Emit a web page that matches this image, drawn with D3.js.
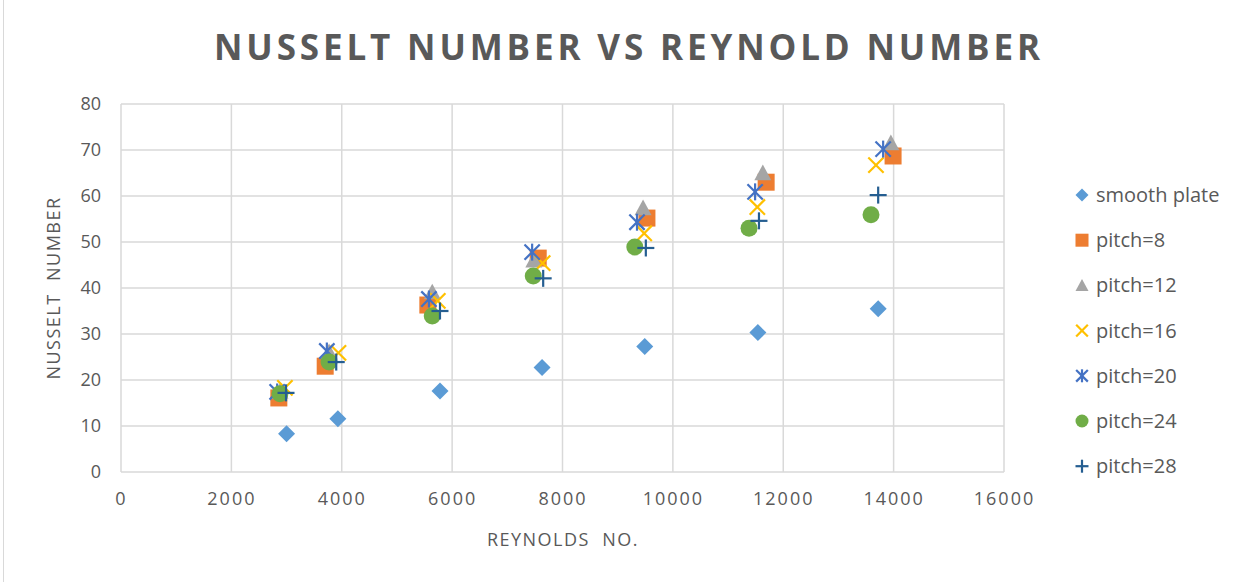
<!DOCTYPE html>
<html><head><meta charset="utf-8">
<script src="https://cdn.jsdelivr.net/npm/d3@7"></script>
<style>body{margin:0;background:#fff}svg{display:block}</style>
</head><body>
<script>
const seriesNames = ["smooth plate","pitch=8","pitch=12","pitch=16","pitch=20","pitch=24","pitch=28"];
const reSmooth = [3000,3930,5780,7630,9490,11540,13720];
const nuSmooth = [8.3,11.6,17.6,22.7,27.3,30.3,35.5];
const rePitch8 = [2860,3700,5560,7560,9530,11690,13990];
const nuPitch8 = [16.1,23.0,36.3,46.5,55.2,63.0,68.7];
const rePitch12 = [2880,3770,5640,7480,9460,11630,13950];
const nuPitch12 = [17.5,26.1,39.1,46.0,57.4,65.0,71.5];
const rePitch16 = [2970,3940,5740,7640,9480,11530,13680];
const nuPitch16 = [18.3,25.9,37.2,45.4,51.9,57.6,66.7];
const rePitch20 = [2830,3730,5580,7450,9350,11490,13810];
const nuPitch20 = [17.4,26.3,37.6,47.8,54.3,60.9,70.2];
const rePitch24 = [2880,3770,5640,7470,9310,11380,13590];
const nuPitch24 = [17.0,23.9,33.9,42.6,48.9,53.0,55.9];
const rePitch28 = [2990,3900,5780,7650,9510,11560,13720];
const nuPitch28 = [17.2,23.9,35.0,42.1,48.7,54.6,60.2];
const xTicks = [0,2000,4000,6000,8000,10000,12000,14000,16000];
const yTicks = [0,10,20,30,40,50,60,70,80];

const colors = ["#5B9BD5","#ED7D31","#A5A5A5","#FFC000","#4472C4","#70AD47","#255E91"];
const shapes = ["diamond","square","triangle","x","star","circle","plus"];
const reList = [reSmooth,rePitch8,rePitch12,rePitch16,rePitch20,rePitch24,rePitch28];
const nuList = [nuSmooth,nuPitch8,nuPitch12,nuPitch16,nuPitch20,nuPitch24,nuPitch28];

const W=1246,H=582;
const svg=d3.select("body").append("svg").attr("width",W).attr("height",H);
svg.append("line").attr("x1",3.5).attr("x2",3.5).attr("y1",0).attr("y2",H).attr("stroke","#D9D9D9").attr("stroke-width",1);

const x=d3.scaleLinear().domain([0,16000]).range([121,1004]);
const y=d3.scaleLinear().domain([0,80]).range([472,104]);
const txt="#595959", font="'Open Sans', 'Liberation Sans', sans-serif";

// grid
svg.append("g").selectAll("line").data(yTicks).join("line")
  .attr("x1",x(0)).attr("x2",x(16000)).attr("y1",d=>y(d)).attr("y2",d=>y(d))
  .attr("stroke","#D9D9D9").attr("stroke-width",1.5);
svg.append("g").selectAll("line").data(xTicks).join("line")
  .attr("y1",y(0)).attr("y2",y(80)).attr("x1",d=>x(d)).attr("x2",d=>x(d))
  .attr("stroke","#D9D9D9").attr("stroke-width",1.5);

// axes labels
const xAxis=d3.axisBottom(x).tickValues(xTicks).tickSize(0).tickPadding(20).tickFormat(d3.format("d"));
const gx=svg.append("g").attr("transform",`translate(0,${y(0)})`).call(xAxis);
gx.select(".domain").remove();
gx.selectAll("text").attr("font-family",font).attr("font-size",18).attr("fill",txt).attr("letter-spacing","2px");
const yAxis=d3.axisLeft(y).tickValues(yTicks).tickSize(0).tickPadding(20);
const gy=svg.append("g").attr("transform",`translate(${x(0)},0)`).call(yAxis);
gy.select(".domain").remove();
gy.selectAll("text").attr("font-family",font).attr("font-size",18).attr("fill",txt);

// titles
svg.append("text").attr("x",627).attr("y",60).attr("text-anchor","middle")
  .attr("font-family",font).attr("font-weight","bold").attr("font-size",35).attr("fill",txt)
  .attr("textLength",826).attr("lengthAdjust","spacing")
  .text("NUSSELT NUMBER VS REYNOLD NUMBER");
svg.append("text").attr("x",563).attr("y",546).attr("text-anchor","middle")
  .attr("font-family",font).attr("font-size",18).attr("fill",txt).attr("letter-spacing","1.5px")
  .text("REYNOLDS\u00A0\u00A0NO.");
svg.append("text").attr("transform","translate(60,288) rotate(-90)").attr("text-anchor","middle")
  .attr("font-family",font).attr("font-size",18).attr("fill",txt).attr("letter-spacing","1.5px")
  .text("NUSSELT\u00A0\u00A0NUMBER");

function drawMarker(g,shape,color,s){
  if(shape==="diamond") g.append("path").attr("d",`M0,${-s}L${s},0L0,${s}L${-s},0Z`).attr("fill",color);
  else if(shape==="square") g.append("rect").attr("x",-s).attr("y",-s).attr("width",2*s).attr("height",2*s).attr("fill",color);
  else if(shape==="triangle") g.append("path").attr("d",`M0,${-s}L${s},${s*0.85}L${-s},${s*0.85}Z`).attr("fill",color);
  else if(shape==="circle") g.append("circle").attr("r",s).attr("fill",color);
  else {
    const k=s*0.9; let segs=[];
    if(shape==="x") segs=[[-k,-k,k,k],[-k,k,k,-k]];
    if(shape==="star") segs=[[-k,-k,k,k],[-k,k,k,-k],[0,-s,0,s]];
    if(shape==="plus") segs=[[-s,0,s,0],[0,-s,0,s]];
    segs.forEach(q=>g.append("line").attr("x1",q[0]).attr("y1",q[1]).attr("x2",q[2]).attr("y2",q[3])
      .attr("stroke",color).attr("stroke-width",2.2));
  }
}

// points
seriesNames.forEach((name,i)=>{
  const g=svg.append("g");
  reList[i].forEach((r,j)=>{
    const m=g.append("g").attr("transform",`translate(${x(r)},${y(nuList[i][j])})`);
    drawMarker(m,shapes[i],colors[i],8.5);
  });
});

// legend
const lg=svg.append("g");
seriesNames.forEach((name,i)=>{
  const yy=195+i*45.2;
  const m=lg.append("g").attr("transform",`translate(1082,${yy})`);
  drawMarker(m,shapes[i],colors[i],6.5);
  lg.append("text").attr("x",1096).attr("y",yy+7).attr("font-family",font).attr("font-size",20).attr("fill",txt).text(name);
});
</script>
</body></html>
